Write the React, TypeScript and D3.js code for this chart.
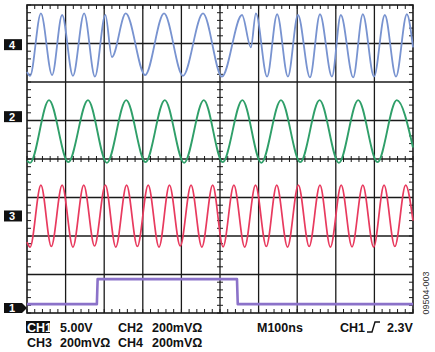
import React from "react";
import * as d3 from "d3";

// time in ns (100 ns/div, 10 div), level in divisions from the bottom (8 div)
const ch4Wave: [number, number][] = [
  [0, 6.26], [8, 6.16], [36, 7.78], [65, 6.18], [91, 7.74], [119, 6.16], [148, 7.78],
  [176, 6.14], [203, 7.74], [220, 6.65], [256, 7.78], [306, 6.18], [355, 7.78],
  [404, 6.16], [456, 7.78], [505, 6.14], [557, 7.74], [580, 6.9], [593, 7.78],
  [622, 6.14], [648, 7.76], [676, 6.14], [702, 7.74], [733, 6.12], [759, 7.76],
  [790, 6.14], [813, 7.74], [845, 6.12], [870, 7.76], [899, 6.14], [927, 7.74],
  [956, 6.14], [984, 7.76], [1000, 6.9],
];
const ch2Wave: [number, number][] = [
  [0, 3.96], [8, 3.9], [57, 5.53], [107, 3.92], [158, 5.53], [207, 3.9], [257, 5.53],
  [307, 3.92], [357, 5.53], [407, 3.9], [458, 5.53], [507, 3.92], [558, 5.53],
  [607, 3.9], [658, 5.53], [708, 3.92], [758, 5.53], [808, 3.9], [858, 5.53],
  [908, 3.92], [958, 5.53], [1000, 4.3],
];
const ch3Wave: [number, number][] = [
  [0, 1.84], [8, 1.71], [36, 3.32], [63, 1.73], [91, 3.32], [119, 1.71], [147, 3.32],
  [175, 1.74], [203, 3.32], [230, 1.71], [258, 3.32], [286, 1.73], [314, 3.32],
  [342, 1.71], [369, 3.32], [397, 1.74], [425, 3.32], [453, 1.71], [481, 3.32],
  [508, 1.72], [536, 3.32], [564, 1.71], [592, 3.32], [620, 1.73], [647, 3.32],
  [675, 1.71], [703, 3.32], [731, 1.73], [759, 3.32], [786, 1.71], [814, 3.32],
  [842, 1.72], [870, 3.32], [898, 1.71], [925, 3.32], [953, 1.73], [981, 3.32],
  [1000, 2.4],
];
const ch1Wave: [number, number][] = [
  [0, 0.23], [181, 0.23], [183, 0.88], [544, 0.88], [546, 0.23], [1000, 0.23],
];

const markers = [
  { label: "4", level: 6.97, arrow: false },
  { label: "2", level: 5.1, arrow: false },
  { label: "3", level: 2.52, arrow: false },
  { label: "1", level: 0.13, arrow: true },
];

const row1 = [
  { text: "CH1", x: 27, inverse: true },
  { text: "5.00V", x: 60 },
  { text: "CH2", x: 118 },
  { text: "200mVΩ", x: 152 },
  { text: "M100ns", x: 257 },
  { text: "CH1", x: 340 },
  { text: "2.3V", x: 387 },
];
const row2 = [
  { text: "CH3", x: 27 },
  { text: "200mVΩ", x: 60 },
  { text: "CH4", x: 118 },
  { text: "200mVΩ", x: 152 },
];

const W = 435, H = 352;
const left = 27, right = 413, top = 5, bottom = 313;

export default function App() {
  const x = d3.scaleLinear().domain([0, 1000]).range([left, right]);
  const y = d3.scaleLinear().domain([0, 8]).range([bottom, top]);

  const wave = d3.line<[number, number]>()
    .x(d => x(d[0]))
    .y(d => y(d[1]))
    .curve(d3.curveMonotoneX);
  const step = d3.line<[number, number]>()
    .x(d => x(d[0]))
    .y(d => y(d[1]));

  const vLines = d3.range(100, 1000, 100);
  const hLines = d3.range(1, 8, 1);
  const minorX = d3.range(0, 1001, 20);
  const minorY = d3.range(0, 8.01, 0.2);

  const font = "'Liberation Sans', Arial, sans-serif";

  return (
    <svg width={W} height={H} style={{ position: "absolute", left: 0, top: 0, background: "#fff" }}>
      {/* grid */}
      <g stroke="#1a1a1a" strokeWidth={1.3}>
        {vLines.map(t => <line key={"v" + t} x1={x(t)} x2={x(t)} y1={top} y2={bottom} />)}
        {hLines.map(v => <line key={"h" + v} x1={left} x2={right} y1={y(v)} y2={y(v)} />)}
      </g>
      <g stroke="#1a1a1a" strokeWidth={1}>
        {minorX.map(t => (
          <g key={"mx" + t}>
            <line x1={x(t)} x2={x(t)} y1={top} y2={top + 4} />
            <line x1={x(t)} x2={x(t)} y1={bottom} y2={bottom - 4} />
            <line x1={x(t)} x2={x(t)} y1={y(4) - 3} y2={y(4) + 3} />
          </g>
        ))}
        {minorY.map(v => (
          <g key={"my" + v}>
            <line x1={left} x2={left + 4} y1={y(v)} y2={y(v)} />
            <line x1={right} x2={right - 4} y1={y(v)} y2={y(v)} />
            <line x1={x(500) - 3} x2={x(500) + 3} y1={y(v)} y2={y(v)} />
          </g>
        ))}
      </g>
      <rect x={left} y={top} width={right - left} height={bottom - top} fill="none" stroke="#1a1a1a" strokeWidth={1.6} />

      {/* traces */}
      <g fill="none" strokeLinejoin="round">
        <path d={wave(ch4Wave) ?? ""} stroke="#7893d0" strokeWidth={1.8} />
        <path d={wave(ch2Wave) ?? ""} stroke="#2f9f69" strokeWidth={1.9} />
        <path d={wave(ch3Wave) ?? ""} stroke="#e83a5e" strokeWidth={1.7} />
        <path d={step(ch1Wave) ?? ""} stroke="#8b72c9" strokeWidth={2.6} />
      </g>

      {/* channel markers */}
      {markers.map(m => {
        const cy = y(m.level);
        const d = m.arrow
          ? `M4,${cy - 5}H22L27,${cy}L22,${cy + 5}H4Z`
          : `M4,${cy - 5.5}H22V${cy + 5.5}H4Z`;
        return (
          <g key={m.label}>
            <path d={d} fill="#111" />
            <text x={12} y={cy + 4} textAnchor="middle" fill="#fff" fontFamily={font} fontWeight="bold" fontSize={11}>{m.label}</text>
          </g>
        );
      })}

      {/* readout */}
      <g fontFamily={font} fontWeight="bold" fontSize={12.5} fill="#111">
        {row1.map((r, i) => (
          <g key={"r1" + i}>
            {r.inverse && <rect x={26} y={321} width={24} height={12} fill="#111" />}
            <text x={r.x} y={332} fill={r.inverse ? "#fff" : "#111"}>{r.text}</text>
          </g>
        ))}
        {row2.map((r, i) => (
          <text key={"r2" + i} x={r.x} y={347}>{r.text}</text>
        ))}
      </g>
      <path d="M367,332H372L375,322H380" fill="none" stroke="#111" strokeWidth={1.4} />

      <text transform="translate(429,293) rotate(-90)" textAnchor="middle" fontFamily={font} fontSize={9} fill="#333">09504-003</text>
    </svg>
  );
}
